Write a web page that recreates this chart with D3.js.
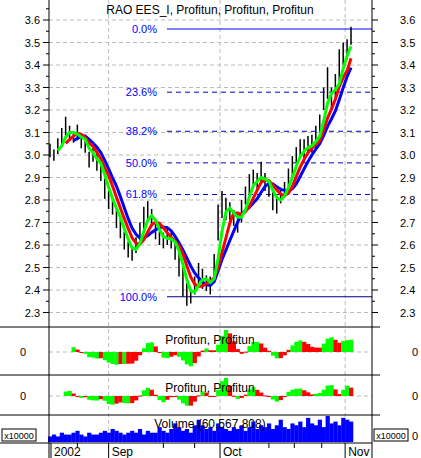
<!DOCTYPE html>
<html><head><meta charset="utf-8">
<script src="https://cdn.jsdelivr.net/npm/d3@7"></script>
<style>body{margin:0;background:#fff}text{font-family:Arial,"Liberation Sans",sans-serif}</style>
</head><body><svg id="c" width="421" height="458"></svg>
<script>
var closes = [3.02,3.0,3.04,3.08,3.12,3.1,3.08,3.1,3.06,3.05,2.98,3.0,2.97,2.92,2.85,2.8,2.77,2.72,2.68,2.62,2.58,2.56,2.6,2.66,2.72,2.75,2.72,2.66,2.63,2.62,2.64,2.62,2.58,2.52,2.44,2.38,2.37,2.42,2.47,2.45,2.43,2.42,2.5,2.7,2.78,2.76,2.75,2.72,2.7,2.75,2.82,2.87,2.9,2.88,2.92,2.88,2.85,2.8,2.78,2.82,2.85,2.9,2.95,3.0,3.03,3.02,3.05,3.05,3.08,3.12,3.25,3.32,3.25,3.3,3.4,3.45,3.47,3.53];
var ranges = [0.06,0.05,0.07,0.08,0.1,0.06,0.05,0.07,0.06,0.08,0.07,0.06,0.08,0.07,0.09,0.08,0.07,0.09,0.1,0.08,0.07,0.06,0.07,0.08,0.1,0.09,0.08,0.07,0.06,0.07,0.08,0.07,0.09,0.12,0.14,0.1,0.06,0.08,0.1,0.09,0.07,0.08,0.12,0.16,0.12,0.1,0.08,0.07,0.09,0.1,0.08,0.09,0.07,0.08,0.1,0.08,0.07,0.09,0.08,0.07,0.06,0.08,0.09,0.07,0.08,0.1,0.07,0.08,0.1,0.12,0.1,0.14,0.1,0.12,0.14,0.1,0.09,0.08];
var volumes = [3,4,3,5,4,4,5,6,4,3,5,4,4,5,6,5,7,6,5,4,5,6,5,7,4,6,5,5,8,6,5,7,10,8,6,7,5,9,12,9,7,8,6,10,8,7,6,8,7,9,6,8,11,7,9,8,10,7,9,12,8,7,10,9,11,8,13,10,9,12,8,14,10,11,9,13,12,11];
var yTicks = [2.3,2.4,2.5,2.6,2.7,2.8,2.9,3.0,3.1,3.2,3.3,3.4,3.5,3.6];
var fibLevels = [0, 23.6, 38.2, 50.0, 61.8, 100];
var monthLabels = [{t:'2002',i:0},{t:'Sep',i:15},{t:'Oct',i:43.5},{t:'Nov',i:75.5}];
var minorTicks = [7, 29, 37, 56, 62.5, 69.5];
var fibHigh = 3.56, fibLow = 2.37;

var svg = d3.select('#c');
var L = 49, R = 372;
var x = d3.scaleLinear().domain([0, closes.length - 1]).range([L + 1, 351]);
var y = d3.scaleLinear().domain([2.3, 3.6]).range([312.5, 20]);

function sma(a, n) {
  return a.map(function (d, i) {
    if (i < n - 1) return null;
    return d3.mean(a.slice(i - n + 1, i + 1));
  });
}
var ma1 = sma(closes, 3), ma2 = sma(closes, 5), ma3 = sma(closes, 7);

// grid
var gridX = [x(15), x(43.5), x(75.5)];
var grid = svg.append('g').attr('stroke', '#bbb').attr('stroke-dasharray', '4,3');
yTicks.forEach(function (v) {
  grid.append('line').attr('x1', L).attr('x2', R).attr('y1', y(v)).attr('y2', y(v));
});
gridX.forEach(function (gx) {
  grid.append('line').attr('x1', gx).attr('x2', gx).attr('y1', 0).attr('y2', 443);
});
[352, 396].forEach(function (gy) {
  grid.append('line').attr('x1', L).attr('x2', R).attr('y1', gy).attr('y2', gy);
});

// fib
fibLevels.forEach(function (p) {
  var v = fibHigh - (fibHigh - fibLow) * p / 100;
  var solid = p === 0 || p === 100;
  svg.append('line').attr('x1', 167).attr('x2', R).attr('y1', y(v)).attr('y2', y(v))
    .attr('stroke', solid ? (p === 0 ? '#00f' : '#000080') : '#00c')
    .attr('stroke-dasharray', solid ? null : '5,4');
  svg.append('text').attr('x', 157).attr('y', y(v) + 4).attr('text-anchor', 'end')
    .attr('font-size', 11).attr('fill', '#00f').text(p.toFixed(1) + '%');
});

// bars
svg.append('g').selectAll('line').data(closes).join('line')
  .attr('x1', function (d, i) { return x(i); }).attr('x2', function (d, i) { return x(i); })
  .attr('y1', function (d, i) { return y(d + ranges[i] * 0.5); })
  .attr('y2', function (d, i) { return y(d - ranges[i] * 0.5); })
  .attr('stroke', '#000').attr('stroke-width', 1.5);

function maLine(a, col) {
  var ln = d3.line().defined(function (d) { return d != null; })
    .x(function (d, i) { return x(i); }).y(function (d) { return y(d); });
  svg.append('path').attr('d', ln(a)).attr('fill', 'none').attr('stroke', col).attr('stroke-width', 3);
}
maLine(ma3, '#00f'); maLine(ma2, '#f00'); maLine(ma1, '#0f0');

// oscillators
function osc(a, b, top, h, zero, label) {
  var vals = a.map(function (d, i) { return d != null && b[i] != null ? d - b[i] : null; });
  var m = d3.max(vals, function (d) { return Math.abs(d); });
  var oy = d3.scaleLinear().domain([-m, m]).range([zero + (h / 2), zero - (h / 2)]);
  var w = x(1) - x(0);
  svg.append('g').selectAll('rect').data(vals).join('rect')
    .attr('x', function (d, i) { return x(i) - w / 2; }).attr('width', w + 0.3)
    .attr('y', function (d) { return d == null ? zero : Math.min(oy(d), oy(0)); })
    .attr('height', function (d) { return d == null ? 0 : Math.max(1, Math.abs(oy(d) - oy(0))); })
    .attr('fill', function (d, i) { return i > 0 && vals[i - 1] != null && Math.abs(d) < Math.abs(vals[i - 1]) ? '#f00' : '#0f0'; });
  svg.append('text').attr('x', 210).attr('y', top + 17).attr('text-anchor', 'middle').attr('font-size', 12).text(label);
  [L - 26, 415].forEach(function (tx) {
    svg.append('text').attr('x', tx).attr('y', zero + 4).attr('text-anchor', 'middle').attr('font-size', 11).text('0');
  });
}
osc(ma1, ma3, 327, 44, 352, 'Profitun, Profitun');
osc(ma1, ma2, 375, 36, 396, 'Profitun, Profitun');

// volume
var vy = d3.scaleLinear().domain([0, 14]).range([442, 416]);
var vw = x(1) - x(0);
svg.append('g').selectAll('rect').data(volumes).join('rect')
  .attr('x', function (d, i) { return x(i) - vw / 2; }).attr('width', vw + 0.3)
  .attr('y', function (d) { return vy(d); }).attr('height', function (d) { return 442 - vy(d); })
  .attr('fill', '#00f');
svg.append('text').attr('x', 210).attr('y', 428).attr('text-anchor', 'middle').attr('font-size', 12).text('Volume (60,567,808)');
[2, 374].forEach(function (bx) {
  svg.append('rect').attr('x', bx).attr('y', 429).attr('width', 34).attr('height', 12).attr('fill', '#fff').attr('stroke', '#000');
  svg.append('text').attr('x', bx + 17).attr('y', 439).attr('text-anchor', 'middle').attr('font-size', 9).text('x10000');
});
svg.append('text').attr('x', 412).attr('y', 440).attr('font-size', 11).text('0');

// frame and axes
var fr = svg.append('g').attr('stroke', '#000');
fr.append('line').attr('x1', L).attr('x2', L).attr('y1', 0).attr('y2', 458);
fr.append('line').attr('x1', R).attr('x2', R).attr('y1', 0).attr('y2', 458);
[327, 375, 415, 443].forEach(function (gy) {
  fr.append('line').attr('x1', 0).attr('x2', gy === 443 ? R : R + 8).attr('y1', gy).attr('y2', gy);
});
yTicks.forEach(function (v) {
  fr.append('line').attr('x1', L - 6).attr('x2', L).attr('y1', y(v)).attr('y2', y(v));
  fr.append('line').attr('x1', R).attr('x2', R + 6).attr('y1', y(v)).attr('y2', y(v));
  fr.append('line').attr('x1', L - 3).attr('x2', L).attr('y1', y(v + 0.05)).attr('y2', y(v + 0.05));
  fr.append('line').attr('x1', R).attr('x2', R + 3).attr('y1', y(v + 0.05)).attr('y2', y(v + 0.05));
  svg.append('text').attr('x', 40).attr('y', y(v) + 4).attr('text-anchor', 'end').attr('font-size', 11).text(v.toFixed(1));
  svg.append('text').attr('x', 400).attr('y', y(v) + 4).attr('text-anchor', 'start').attr('font-size', 11).text(v.toFixed(1));
});
monthLabels.forEach(function (m) {
  var mx = m.i === 0 ? L + 2 : x(m.i);
  fr.append('line').attr('x1', mx).attr('x2', mx).attr('y1', 443).attr('y2', 458);
  svg.append('text').attr('x', mx + 3).attr('y', 456).attr('font-size', 12).text(m.t);
});
minorTicks.forEach(function (i) {
  fr.append('line').attr('x1', x(i)).attr('x2', x(i)).attr('y1', 443).attr('y2', 448);
});
svg.append('text').attr('x', 210).attr('y', 14).attr('text-anchor', 'middle').attr('font-size', 12).text('RAO EES_I, Profitun, Profitun, Profitun');
</script></body></html>
